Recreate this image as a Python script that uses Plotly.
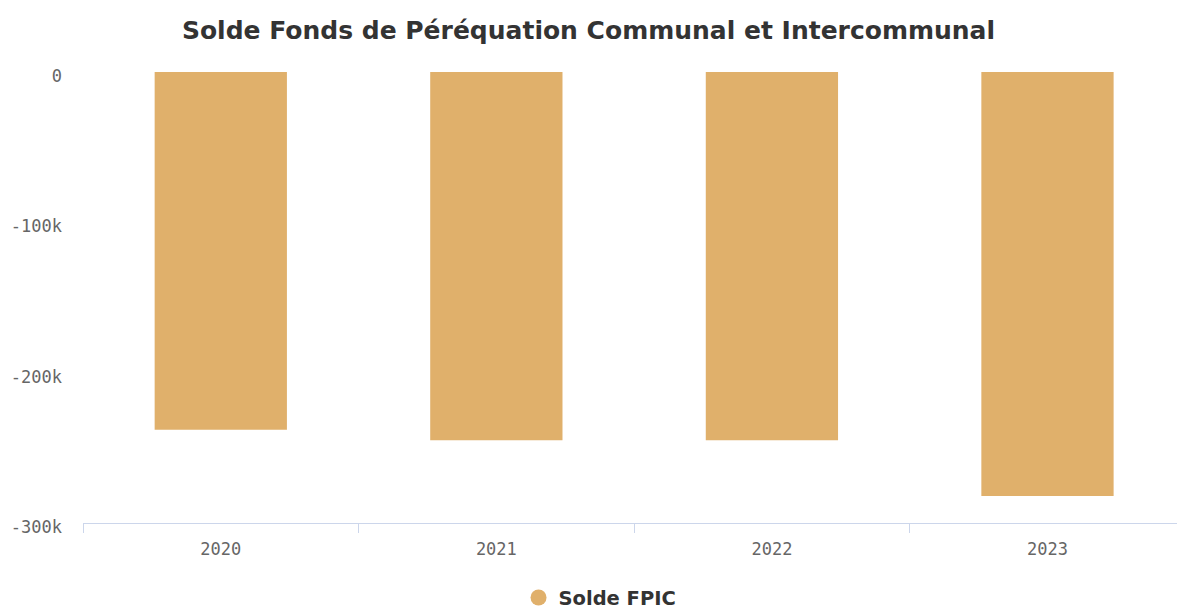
import plotly.graph_objects as go

years = ["2020", "2021", "2022", "2023"]
solde_fpic = [-238000, -245000, -245000, -282000]
y_tickvals = [0, -100000, -200000, -300000]
y_ticktext = ["0", "-100k", "-200k", "-300k"]

bar_color = "#E0B06B"

fig = go.Figure()
fig.add_trace(go.Bar(
    x=years,
    y=solde_fpic,
    name="Solde FPIC",
    marker=dict(color=bar_color, line=dict(width=0)),
    width=0.48,
    showlegend=False,
))
# legend entry with a round marker, like the original
fig.add_trace(go.Scatter(
    x=[None], y=[None],
    mode="markers",
    name="Solde FPIC",
    marker=dict(color=bar_color, symbol="circle", size=16),
))

fig.update_layout(
    width=1177,
    height=610,
    paper_bgcolor="white",
    plot_bgcolor="white",
    title=dict(
        text="Solde Fonds de Péréquation Communal et Intercommunal",
        x=0.5, xanchor="center", y=0.95, yanchor="middle",
        font=dict(family="DejaVu Sans", size=25, color="#333333", weight="bold"),
    ),
    margin=dict(l=83, r=0, t=72, b=87, autoexpand=False),
    showlegend=True,
    legend=dict(
        orientation="h", x=0.4726, xanchor="center",
        yref="container", y=0.02, yanchor="middle",
        font=dict(family="DejaVu Sans", size=19.5, color="#333333", weight="bold"),
    ),
    xaxis=dict(
        type="category",
        range=[-0.5, 3.47],
        showline=True, linecolor="#ccd6eb", linewidth=1,
        ticks="outside", tickson="boundaries", ticklen=9, tickcolor="#ccd6eb",
        showgrid=False,
        ticklabelstandoff=11,
        tickfont=dict(family="DejaVu Sans Mono", size=17, color="#666666"),
    ),
    yaxis=dict(
        range=[-300000, 0],
        tickvals=y_tickvals,
        ticktext=y_ticktext,
        showgrid=False,
        zeroline=False,
        ticks="",
        automargin=False,
        ticklabelstandoff=20,
        ticklabelshift=4,
        tickfont=dict(family="DejaVu Sans Mono", size=17, color="#666666"),
    ),
)

fig.write_html(
    "out.html",
    config={"displayModeBar": False},
    post_script="document.body.style.margin='0';",
)
